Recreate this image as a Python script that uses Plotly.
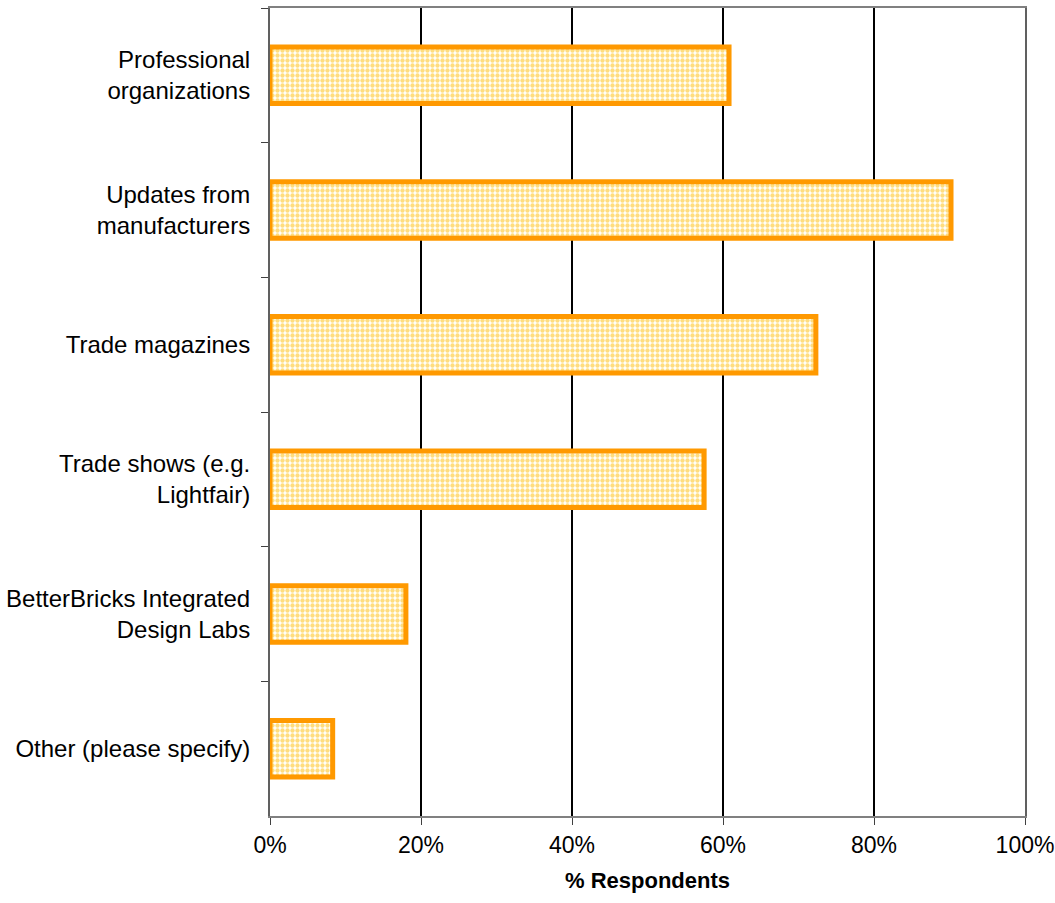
import plotly.graph_objects as go

# Information sources and share of respondents using each
sources = [
    "Professional<br>organizations",
    "Updates from<br>manufacturers",
    "Trade magazines",
    "Trade shows (e.g.<br>Lightfair)",
    "BetterBricks Integrated<br>Design Labs",
    "Other (please specify)",
]
share = [0.608, 0.902, 0.723, 0.575, 0.180, 0.083]

x_ticks = [0, 0.2, 0.4, 0.6, 0.8, 1.0]
x_tick_text = ["0%", "20%", "40%", "60%", "80%", "100%"]

font_family = "Liberation Sans, Arial, sans-serif"

fig = go.Figure(
    go.Bar(
        x=share,
        y=sources,
        orientation="h",
        width=0.42,
        marker=dict(
            color="white",
            line=dict(color="#FF9900", width=5),
            pattern=dict(shape=".", fgcolor="#FFBB00", bgcolor="white",
                         size=5, solidity=0.6),
        ),
        hoverinfo="x+y",
    )
)

fig.update_layout(
    width=1055,
    height=903,
    margin=dict(l=270, r=30, t=8, b=87),
    paper_bgcolor="white",
    plot_bgcolor="white",
    font=dict(family=font_family, size=24, color="black"),
    showlegend=False,
)

fig.update_xaxes(
    range=[0, 1],
    tickvals=x_ticks,
    ticktext=x_tick_text,
    showgrid=True,
    gridcolor="black",
    gridwidth=2,
    zeroline=False,
    showline=True,
    linecolor="#808080",
    linewidth=2,
    mirror=True,
    ticks="outside",
    ticklen=7,
    tickcolor="#404040",
    tickfont=dict(size=23),
    automargin=False,
    title=dict(text="<b>% Respondents</b>", font=dict(size=22), standoff=16),
)

fig.update_yaxes(
    type="category",
    autorange="reversed",
    tickson="boundaries",
    ticks="outside",
    ticklen=7,
    tickcolor="#404040",
    showgrid=False,
    showline=True,
    linecolor="#606060",
    linewidth=2,
    mirror=True,
    tickfont=dict(size=24),
    automargin=False,
    ticklabelstandoff=13,
)

fig.write_html("out.html")
